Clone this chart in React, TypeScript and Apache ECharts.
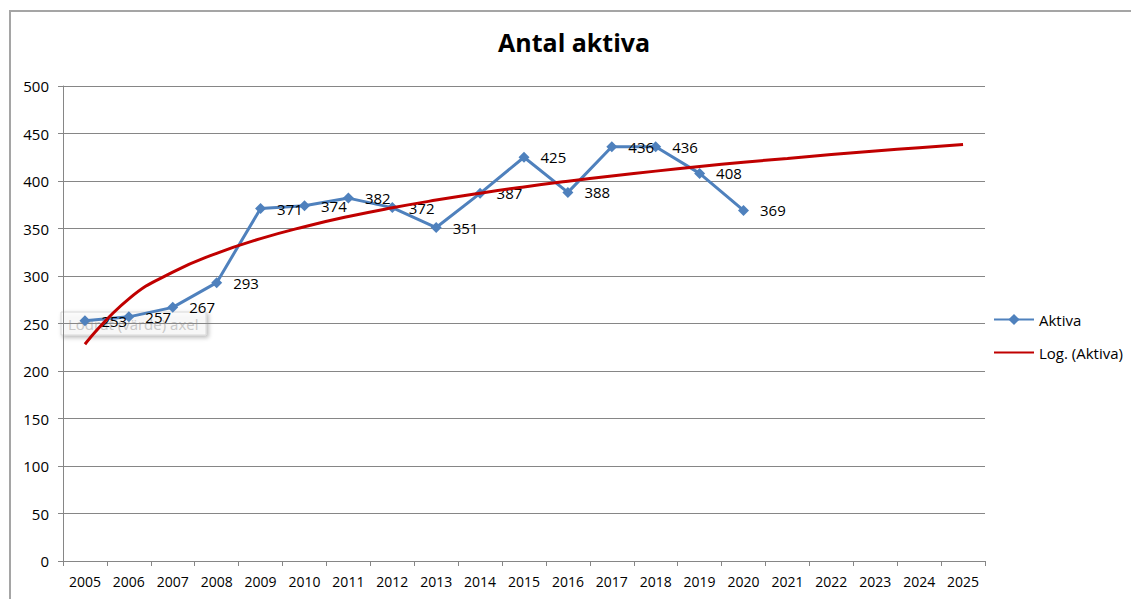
import React, { useEffect, useRef } from "react";
import * as echarts from "echarts";

const years = [
  "2005", "2006", "2007", "2008", "2009", "2010", "2011", "2012", "2013", "2014",
  "2015", "2016", "2017", "2018", "2019", "2020", "2021", "2022", "2023", "2024", "2025",
];
const aktiva = [253, 257, 267, 293, 371, 374, 382, 372, 351, 387, 425, 388, 436, 436, 408, 369];
// Logarithmic trendline (Excel "Log. (Aktiva)") values per category
const trend = [
  228.2, 276.0, 304.0, 323.9, 339.3, 351.9, 362.6, 371.8, 379.9, 387.2, 393.8,
  399.8, 405.3, 410.4, 415.2, 419.7, 423.8, 427.8, 431.5, 435.1, 438.4,
];

const FONT = "'Open Sans', 'Noto Sans', sans-serif";

export default function App() {
  const ref = useRef<HTMLDivElement>(null);
  useEffect(() => {
    const chart = echarts.init(ref.current!, null, { renderer: "svg" });
    chart.setOption({
      animation: false,
      backgroundColor: "#ffffff",
      textStyle: { fontFamily: FONT },
      title: {
        text: "Antal aktiva",
        left: 498,
        top: 29,
        padding: 0,
        textStyle: { fontFamily: FONT, fontSize: 25, fontWeight: "bold", color: "#000" },
      },
      legend: {
        orient: "vertical",
        left: 993,
        top: 312,
        padding: 0,
        itemWidth: 40,
        itemHeight: 14,
        itemGap: 18,
        textStyle: { fontFamily: FONT, fontSize: 15, color: "#000" },
        data: [
          { name: "Aktiva" },
          { name: "Log. (Aktiva)", itemStyle: { opacity: 0 } },
        ],
      },
      grid: { left: 63, right: 146, top: 86, bottom: 38, containLabel: false },
      xAxis: {
        type: "category",
        data: years,
        boundaryGap: true,
        axisLine: { show: true, lineStyle: { color: "#868686", width: 1 } },
        axisTick: { show: true, length: 5, lineStyle: { color: "#868686" } },
        axisLabel: { color: "#000", fontSize: 14, fontFamily: FONT, margin: 13, interval: 0 },
        splitLine: { show: false },
      },
      yAxis: {
        type: "value",
        min: 0,
        max: 500,
        interval: 50,
        axisLine: { show: true, lineStyle: { color: "#868686", width: 1 } },
        axisTick: { show: true, length: 5, lineStyle: { color: "#868686" } },
        axisLabel: { color: "#000", fontSize: 15, fontFamily: FONT, margin: 14 },
        splitLine: { show: true, lineStyle: { color: "#868686", width: 1 } },
      },
      graphic: [
        {
          type: "rect",
          z: -1,
          shape: { x: 10, y: 11, width: 1400, height: 800 },
          style: { fill: "none", stroke: "#a5a5a5", lineWidth: 2 },
          silent: true,
        },
        {
          type: "group",
          x: 61,
          y: 312,
          z: 1,
          silent: true,
          children: [
            {
              type: "rect",
              shape: { x: 0, y: 0, width: 145, height: 23 },
              style: {
                fill: "rgba(255,255,255,0.75)",
                stroke: "#d8d8d8",
                lineWidth: 1,
                shadowBlur: 4,
                shadowOffsetX: 2,
                shadowOffsetY: 2,
                shadowColor: "rgba(0,0,0,0.35)",
              },
            },
            {
              type: "text",
              x: 7,
              y: 12,
              style: {
                text: "Lodrät (värde) axel",
                fill: "#c8c8c8",
                font: "15px " + FONT,
                verticalAlign: "middle",
              },
            },
          ],
        },
      ],
      series: [
        {
          name: "Aktiva",
          type: "line",
          data: aktiva,
          z: 2,
          symbol: "diamond",
          symbolSize: 11,
          lineStyle: { color: "#4F81BD", width: 3 },
          itemStyle: { color: "#4F81BD" },
          label: {
            show: true,
            position: "right",
            distance: 11,
            color: "#000",
            fontSize: 15,
            fontFamily: FONT,
          },
        },
        {
          name: "Log. (Aktiva)",
          type: "line",
          data: trend,
          z: 3,
          smooth: 0.5,
          symbol: "none",
          lineStyle: { color: "#C00000", width: 3 },
          itemStyle: { color: "#C00000" },
          silent: true,
        },
      ],
    });
    return () => chart.dispose();
  }, []);
  return (
    <div
      ref={ref}
      style={{ position: "fixed", left: 0, top: 0, width: 1131, height: 599, background: "#fff" }}
    />
  );
}
